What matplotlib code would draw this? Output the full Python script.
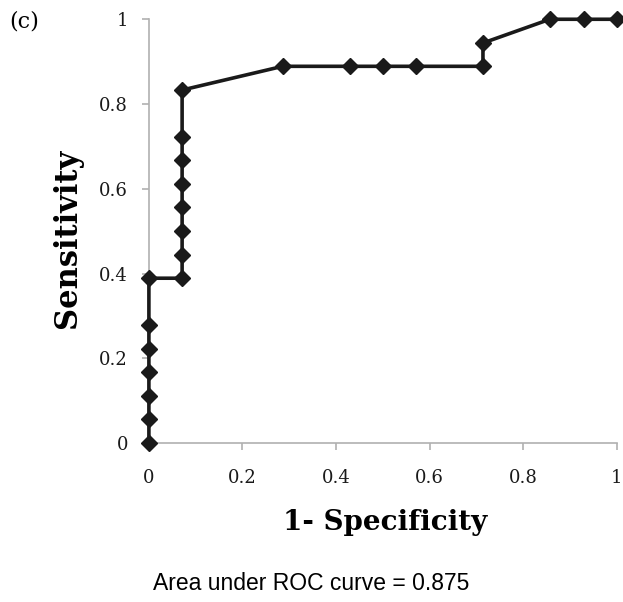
from matplotlib import pyplot as plt

# ROC points
fpr = [0, 0, 0, 0, 0, 0, 0,
       0.071, 0.071, 0.071, 0.071, 0.071, 0.071, 0.071, 0.071,
       0.286, 0.429, 0.5, 0.571, 0.714, 0.714, 0.857, 0.929, 1.0]
tpr = [0, 0.056, 0.111, 0.167, 0.222, 0.278, 0.389,
       0.389, 0.444, 0.5, 0.556, 0.611, 0.667, 0.722, 0.833,
       0.889, 0.889, 0.889, 0.889, 0.889, 0.944, 1.0, 1.0, 1.0]
ticks = [0, 0.2, 0.4, 0.6, 0.8, 1]
tickLabels = ['0', '0.2', '0.4', '0.6', '0.8', '1']
aucText = 'Area under ROC curve = 0.875'

serif = ['DejaVu Serif']
gray = '#b0b0b0'

fig = plt.figure(figsize=(6.23, 6.02), dpi=100)
ax = fig.add_axes([0.239, 0.264, 0.751, 0.704])

ax.plot(fpr, tpr, color='#1a1a1a', lw=2.6, marker='D', ms=8.5,
        clip_on=False, zorder=3)

ax.set_xlim(0, 1)
ax.set_ylim(0, 1)
ax.set_xticks(ticks)
ax.set_yticks(ticks)
ax.set_xticklabels(tickLabels, family=serif, fontsize=13)
ax.set_yticklabels(tickLabels, family=serif, fontsize=13)

for side in ['top', 'right']:
    ax.spines[side].set_visible(False)
for side in ['left', 'bottom']:
    ax.spines[side].set_color(gray)
    ax.spines[side].set_linewidth(1.2)
ax.tick_params(axis='x', pad=14)
ax.tick_params(axis='y', pad=10)
ax.tick_params(direction='out', length=5, width=1.2, color=gray,
               labelcolor='#1a1a1a')

ax.set_xlabel('1- Specificity', family=serif, fontsize=20, fontweight='bold')
ax.set_ylabel('Sensitivity', family=serif, fontsize=22, fontweight='bold')
ax.xaxis.set_label_coords(0.504, -0.155)
ax.yaxis.set_label_coords(-0.14, 0.483)

fig.text(0.015, 0.965, '(c)', family=serif, fontsize=16, va='center')
fig.text(0.5, 0.03, aucText, family=['Liberation Sans'], fontsize=16.5,
         ha='center', va='center')

fig.savefig('out.png', dpi=100)
